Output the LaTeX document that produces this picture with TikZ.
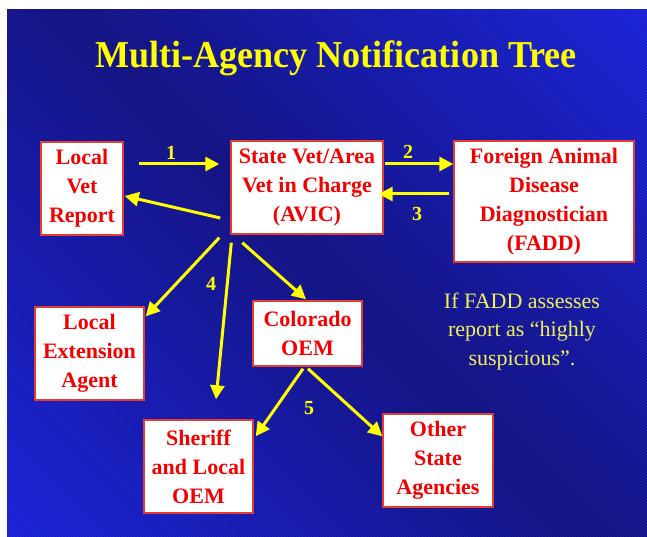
\documentclass[tikz,border=0pt]{standalone}
\usepackage{fontspec}
\setmainfont{Liberation Serif}
\usetikzlibrary{arrows.meta,patterns,calc}
\definecolor{bgdark}{RGB}{16,16,130}
\definecolor{bgbright}{RGB}{28,38,248}
\definecolor{ylw}{RGB}{255,255,0}
\definecolor{noteylw}{RGB}{240,240,90}
\definecolor{boxred}{RGB}{228,60,50}
\definecolor{txtred}{RGB}{245,0,0}
\pgfdeclarehorizontalshading{diagband}{100bp}{color(0bp)=(bgbright); color(50bp)=(bgdark); color(100bp)=(bgbright)}
\begin{document}
\begin{tikzpicture}[x=1pt,y=-1pt,
  box/.style={draw=boxred, line width=1.4pt, fill=white, text=txtred,
    font=\fontsize{22}{29}\selectfont\bfseries, align=center, inner sep=0pt},
  arr/.style={draw=ylw, line width=3pt, -{Triangle[length=14pt,width=14pt]}},
  num/.style={text=ylw, font=\fontsize{20}{24}\selectfont\bfseries, inner sep=0pt}]
\useasboundingbox (0,0) rectangle (647,537);
\shade[shading=diagband, shading angle=45] (7,10) rectangle (647,537);
\fill[pattern=north west lines, pattern color=white, opacity=0.07] (7,10) rectangle (647,537);

\node[text=ylw, font=\fontsize{38}{40}\selectfont\bfseries, inner sep=0pt, anchor=base] (title) at (336,68)
  {\scalebox{0.95}[1]{Multi-Agency Notification Tree}};

\node[box, minimum width=82pt, minimum height=93pt] (lvr) at (82,188.5) {Local\\Vet\\Report};
\node[box, minimum width=152pt, minimum height=93pt] (avic) at (307,187.5) {State Vet/Area\\Vet in Charge\\(AVIC)};
\node[box, minimum width=180pt, minimum height=121pt] (fadd) at (544,201.5) {Foreign Animal\\Disease\\Diagnostician\\(FADD)};
\node[box, minimum width=109pt, minimum height=93pt] (lea) at (89.5,353.5) {Local\\Extension\\Agent};
\node[box, minimum width=109pt, minimum height=65pt] (coem) at (307.5,333.5) {Colorado\\OEM};
\node[box, minimum width=109pt, minimum height=93pt] (sher) at (198.5,466.5) {Sheriff\\and Local\\OEM};
\node[box, minimum width=110pt, minimum height=93pt] (osa) at (438,460.5) {Other\\State\\Agencies};

\node[text=noteylw, font=\fontsize{22}{28.5}\selectfont, align=center, inner sep=0pt] (note) at (522,331.5)
  {If FADD assesses\\report as “highly\\suspicious”.};

% arrows
\draw[arr] ([shift={(15,-24.5)}]lvr.east) -- ([shift={(-11,-23.5)}]avic.west);
\draw[arr] ([shift={(-10,30.5)}]avic.west) -- ([shift={(1,7.5)}]lvr.east);
\draw[arr] ([shift={(1,-23.5)}]avic.east) -- ([shift={(0,-37.5)}]fadd.west);
\draw[arr] ([shift={(-4,-7.5)}]fadd.west) -- ([shift={(-5,6.5)}]avic.east);
\draw[arr] ([shift={(-11,3)}]avic.south west) -- ([shift={(1,10)}]lea.north east);
\draw[arr] ([shift={(1,8)}]avic.south west) -- ([shift={(17.5,-20)}]sher.north);
\draw[arr] ([shift={(12,8)}]avic.south west) -- ([shift={(-1.5,-1)}]coem.north);
\draw[arr] ([shift={(-4.5,2)}]coem.south) -- ([shift={(2,17)}]sher.north east);
\draw[arr] ([shift={(0.5,2)}]coem.south) -- ([shift={(0,23)}]osa.north west);

\node[num] (n1) at (171,153) {1};
\node[num] (n2) at (408,152) {2};
\node[num] (n3) at (417,214) {3};
\node[num] (n4) at (211,284) {4};
\node[num] (n5) at (309,408) {5};
\end{tikzpicture}
\end{document}
